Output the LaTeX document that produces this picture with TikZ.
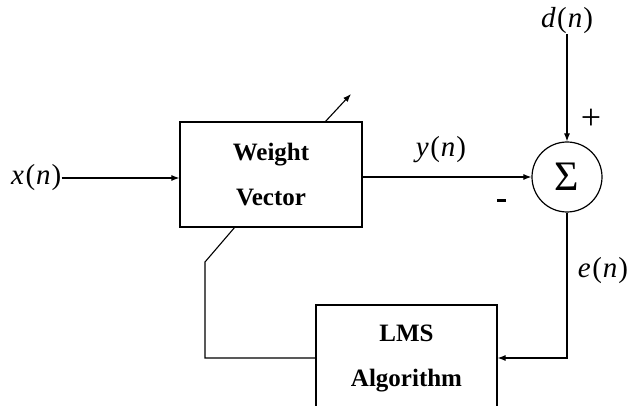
\documentclass[tikz,border=0pt]{standalone}
\usepackage{fontspec}
\setmainfont{Liberation Serif}
\usetikzlibrary{arrows.meta}
\newcommand{\sg}[2]{\textit{#1}\kern1.5pt(\kern1pt\textit{#2}\kern1pt)}
\begin{document}
\begin{tikzpicture}[x=1pt,y=-1pt,
  blk/.style={draw,line width=1.2pt,rectangle,inner sep=0pt,align=center,
    font=\fontsize{25}{45}\selectfont\bfseries},
  sig/.style={line width=1.1pt},
  arr/.style={sig,-{Latex[length=8pt,width=6pt]}},
  lbl/.style={inner sep=0pt,font=\fontsize{29}{32}\selectfont}]
\useasboundingbox (0,0) rectangle (633,406);
\node[blk,minimum width=182pt,minimum height=105pt] (wv) at (271,174.5) {Weight\\Vector};
\node[blk,minimum width=181pt,minimum height=106pt] (lms) at (406.5,358) {LMS\\Algorithm};
\node[draw,circle,line width=1.2pt,minimum size=70pt,inner sep=0pt,
  font=\fontsize{42}{42}\selectfont] (sum) at (567,177) {\raisebox{-1pt}{Σ}};
\node[lbl,anchor=west] (xn) at (11,178) {\sg{x}{n}};
\node[lbl] (yn) at (441,150) {\sg{y}{n}};
\node[lbl] (dn) at (567,21) {\sg{d}{n}};
\node[lbl] (en) at (603,271) {\sg{e}{n}};
\node[inner sep=0pt,font=\fontsize{36}{36}\selectfont] (plus) at (591,119) {+};
\node[fill=black,minimum width=9pt,minimum height=3pt,inner sep=0pt] (minus) at (501,201) {};
\coordinate (fb) at (205,262);
\coordinate (wvb) at (235,227);
\coordinate (wvt) at (325,122);
\coordinate (adj) at (351,94);
\draw[arr] (xn.east) -- (xn.east -| wv.west);
\draw[arr] (sum.west -| wv.east) -- (sum.west);
\draw[arr] (dn.south) -- (sum.north);
\draw[arr] (sum.south) |- (lms.east);
\draw[sig] (lms.west) -| (fb) -- (wvb);
\draw[arr] (wvt) -- (adj);
\end{tikzpicture}
\end{document}
